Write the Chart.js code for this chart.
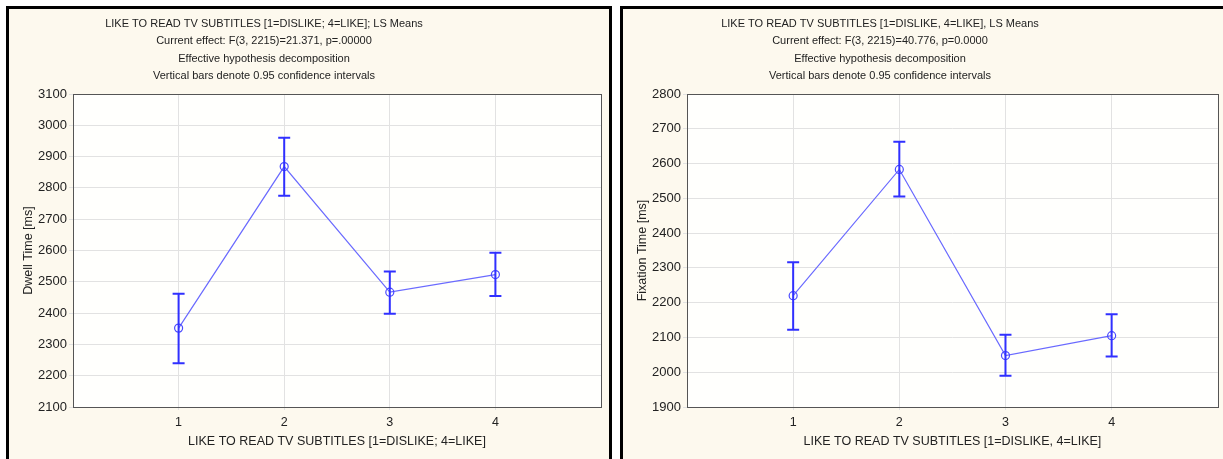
<!DOCTYPE html>
<html lang="en">
<head>
<meta charset="UTF-8">
<title>LS Means</title>
<script src="https://cdn.jsdelivr.net/npm/chart.js"></script>
<style>
  html, body { margin: 0; padding: 0; background: #ffffff; overflow: hidden; }
  .panel { position: absolute; top: 6px; width: 600px; height: 460px; background: #fdf9ee;
           border-top: 3px solid #000; border-left: 3px solid #000; }
  #p1 { left: 6px; border-right: 3px solid #000; }
  #p2 { left: 620px; }
  canvas { display: block; }
</style>
</head>
<body>
<div class="panel" id="p1"><canvas id="dwellChart" width="600" height="450"></canvas></div>
<div class="panel" id="p2"><canvas id="fixChart" width="600" height="450"></canvas></div>

<script>
// categories (x positions 1..4)
const levels = [1, 2, 3, 4];

// left panel: dwell time
const dwellMeans = [2352, 2868, 2467, 2523];
const dwellLow   = [2240, 2775, 2398, 2455];
const dwellHigh  = [2462, 2960, 2533, 2593];

// right panel: fixation time
const fixMeans = [2220, 2583, 2048, 2105];
const fixLow   = [2122, 2505, 1990, 2045];
const fixHigh  = [2316, 2663, 2108, 2167];

const FONT = '"Liberation Sans", Arial, sans-serif';

// plot frame, error bars and the (off-centre) title block
const frameAndBars = {
  id: 'frameAndBars',
  beforeDraw(chart) {
    const a = chart.chartArea, c = chart.ctx;
    c.save();
    c.fillStyle = '#fffffd';
    c.fillRect(a.left, a.top, a.right - a.left, a.bottom - a.top);
    c.restore();
  },
  afterDatasetsDraw(chart, args, opts) {
    const a = chart.chartArea, c = chart.ctx;
    const xs = chart.scales.x, ys = chart.scales.y;
    const ds = chart.data.datasets[0];
    c.save();
    c.strokeStyle = '#3030ff';
    c.lineWidth = 2;
    ds.data.forEach((p) => {
      const x = xs.getPixelForValue(p.x);
      const y1 = ys.getPixelForValue(p.lo), y2 = ys.getPixelForValue(p.hi);
      c.beginPath();
      c.moveTo(x, y1); c.lineTo(x, y2);
      c.moveTo(x - 6, y1); c.lineTo(x + 6, y1);
      c.moveTo(x - 6, y2); c.lineTo(x + 6, y2);
      c.stroke();
    });
    c.strokeStyle = '#555';
    c.lineWidth = 1;
    c.strokeRect(Math.round(a.left) + 0.5, Math.round(a.top) + 0.5,
                 Math.round(a.right - a.left), Math.round(a.bottom - a.top));

    // title lines
    c.fillStyle = '#222';
    c.font = '11px ' + FONT;
    c.textAlign = 'center';
    c.textBaseline = 'middle';
    opts.lines.forEach((t, i) => c.fillText(t, opts.cx, 14.5 + i * 17.6));
    c.restore();
  }
};

function makeChart(id, means, low, high, yMin, yMax, yTitle, titleLines, titleX, xTitle, rightPad) {
  const pts = levels.map((x, i) => ({ x: x, y: means[i], lo: low[i], hi: high[i] }));
  return new Chart(document.getElementById(id), {
    type: 'scatter',
    data: {
      datasets: [{
        data: pts,
        showLine: true,
        borderColor: '#6a6aff',
        borderWidth: 1.2,
        pointStyle: 'circle',
        pointRadius: 4,
        pointBorderWidth: 1.2,
        pointBorderColor: '#4a4aff',
        pointBackgroundColor: 'rgba(0,0,0,0)'
      }]
    },
    options: {
      responsive: false,
      animation: false,
      layout: { padding: { left: 0, right: rightPad, top: 85, bottom: 0 } },
      plugins: {
        legend: { display: false },
        tooltip: { enabled: false },
        title: { display: false },
        frameAndBars: { lines: titleLines, cx: titleX }
      },
      scales: {
        x: {
          type: 'linear',
          min: 0, max: 5,
          afterBuildTicks: (s) => { s.ticks = levels.map(v => ({ value: v })); },
          afterFit: (s) => { s.height = 52; },
          grid: { color: '#e2e2e2', tickLength: 3, drawTicks: true },
          border: { display: false },
          ticks: { color: '#222', font: { family: FONT, size: 12.5 }, padding: 5 },
          title: { display: true, text: xTitle, color: '#222', font: { family: FONT, size: 12.5 }, padding: { top: 4, bottom: 10 } }
        },
        y: {
          min: yMin, max: yMax,
          afterFit: (s) => { s.width = 64; },
          grid: { color: '#e2e2e2', tickLength: 4 },
          border: { display: false },
          ticks: { stepSize: 100, color: '#222', font: { family: FONT, size: 13 }, padding: 2,
                   callback: (v) => String(v) },
          title: { display: true, text: yTitle, color: '#222', font: { family: FONT, size: 12.5 }, padding: { top: 12, bottom: 2 } }
        }
      }
    },
    plugins: [frameAndBars]
  });
}

makeChart('dwellChart', dwellMeans, dwellLow, dwellHigh, 2100, 3100, 'Dwell Time [ms]', [
  'LIKE TO READ TV SUBTITLES [1=DISLIKE; 4=LIKE]; LS Means',
  'Current effect: F(3, 2215)=21.371, p=.00000',
  'Effective hypothesis decomposition',
  'Vertical bars denote 0.95 confidence intervals'
], 255, 'LIKE TO READ TV SUBTITLES [1=DISLIKE; 4=LIKE]', 8);

makeChart('fixChart', fixMeans, fixLow, fixHigh, 1900, 2800, 'Fixation Time [ms]', [
  'LIKE TO READ TV SUBTITLES [1=DISLIKE, 4=LIKE], LS Means',
  'Current effect: F(3, 2215)=40.776, p=0.0000',
  'Effective hypothesis decomposition',
  'Vertical bars denote 0.95 confidence intervals'
], 257, 'LIKE TO READ TV SUBTITLES [1=DISLIKE, 4=LIKE]', 4);
</script>
</body>
</html>
